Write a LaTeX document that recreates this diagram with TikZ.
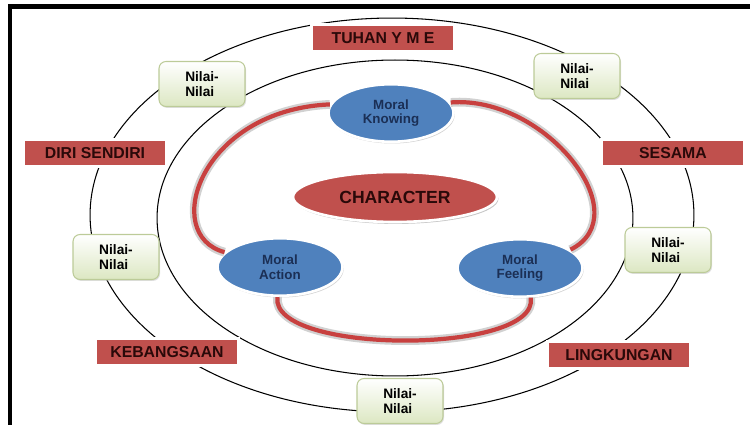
\documentclass[tikz,border=0pt]{standalone}
\usepackage{fontspec}
\setmainfont{Liberation Sans}
\usetikzlibrary{shapes.geometric,shadows}

\definecolor{boxred}{HTML}{C0504D}
\definecolor{ellblue}{HTML}{4F81BD}
\definecolor{navytext}{HTML}{1B2F55}
\definecolor{maroontext}{HTML}{2A0909}
\definecolor{nilaiedge}{HTML}{BCCB98}
\definecolor{nilaifill}{HTML}{DCE7C2}
\definecolor{trackred}{HTML}{C8403F}

\tikzset{
  redbox/.style={draw=white, line width=1.5pt, fill=boxred, minimum width=2.86cm, minimum height=0.53cm, inner sep=0pt,
    text=maroontext, font=\bfseries\fontsize{9}{10}\selectfont,
    drop shadow={shadow xshift=0.8pt, shadow yshift=-1.1pt, fill=black!45}},
  nilai/.style={draw=nilaiedge, line width=0.6pt, rounded corners=4pt, top color=white, bottom color=nilaifill,
    minimum width=1.72cm, minimum height=0.9cm, align=left, font=\bfseries\fontsize{7.8}{8.7}\selectfont,
    drop shadow={shadow xshift=0.6pt, shadow yshift=-0.8pt, fill=black!25}},
  moral/.style={ellipse, draw=white, line width=1.5pt, fill=ellblue, minimum width=2.5cm, minimum height=1.15cm,
    inner sep=0pt, align=center, text=navytext, font=\bfseries\fontsize{7.6}{8.4}\selectfont,
    drop shadow={shadow xshift=0.7pt, shadow yshift=-1pt, fill=black!35}},
  track/.style={draw=trackred, line width=2.4pt, preaction={draw=black!18, line width=5pt}},
}

\begin{document}
\begin{tikzpicture}[x=0.02cm, y=-0.02cm]
  \useasboundingbox (0,0) rectangle (750,425);
  % frame
  \draw[line width=2.3pt] (10,425) -- (10,6.5) -- (750,6.5);

  % rings
  \draw[line width=0.6pt] (392,215) ellipse [x radius=6.04cm, y radius=3.94cm];
  \draw[line width=0.6pt] (395,218) ellipse [x radius=4.76cm, y radius=3.16cm];

  % relations
  \node[redbox] (tuhan)  at (383,38)  {TUHAN Y M E};
  \node[redbox] (diri)   at (95,153)  {DIRI SENDIRI};
  \node[redbox] (sesama) at (673,153) {SESAMA};
  \node[redbox] (bangsa) at (167,352) {KEBANGSAAN};
  \node[redbox] (lingk)  at (619,355) {LINGKUNGAN};

  \node[nilai] (n1) at (202,84)  {Nilai-\\Nilai};
  \node[nilai] (n2) at (577,76)  {Nilai-\\Nilai};
  \node[nilai] (n3) at (116,257) {Nilai-\\Nilai};
  \node[nilai] (n4) at (668,250) {Nilai-\\Nilai};
  \node[nilai] (n5) at (400,401) {Nilai-\\Nilai};

  % core
  \node[redbox, ellipse, minimum width=4.08cm, minimum height=1cm, font=\bfseries\fontsize{10}{11}\selectfont] (char) at (395,197) {CHARACTER};
  \node[moral] (know) at (391,113) {Moral\\Knowing};
  \node[moral] (act)  at (280,267) {Moral\\Action};
  \node[moral] (feel) at (520,268) {Moral\\Feeling};

  \draw[track] (know.172) .. controls (200,110) and (160,235) .. (act.165);
  \draw[track] (know.10) .. controls (545,95) and (640,215) .. (feel.20);
  \draw[track] (act.265) .. controls (270,355) and (540,355) .. (feel.290);
\end{tikzpicture}
\end{document}
